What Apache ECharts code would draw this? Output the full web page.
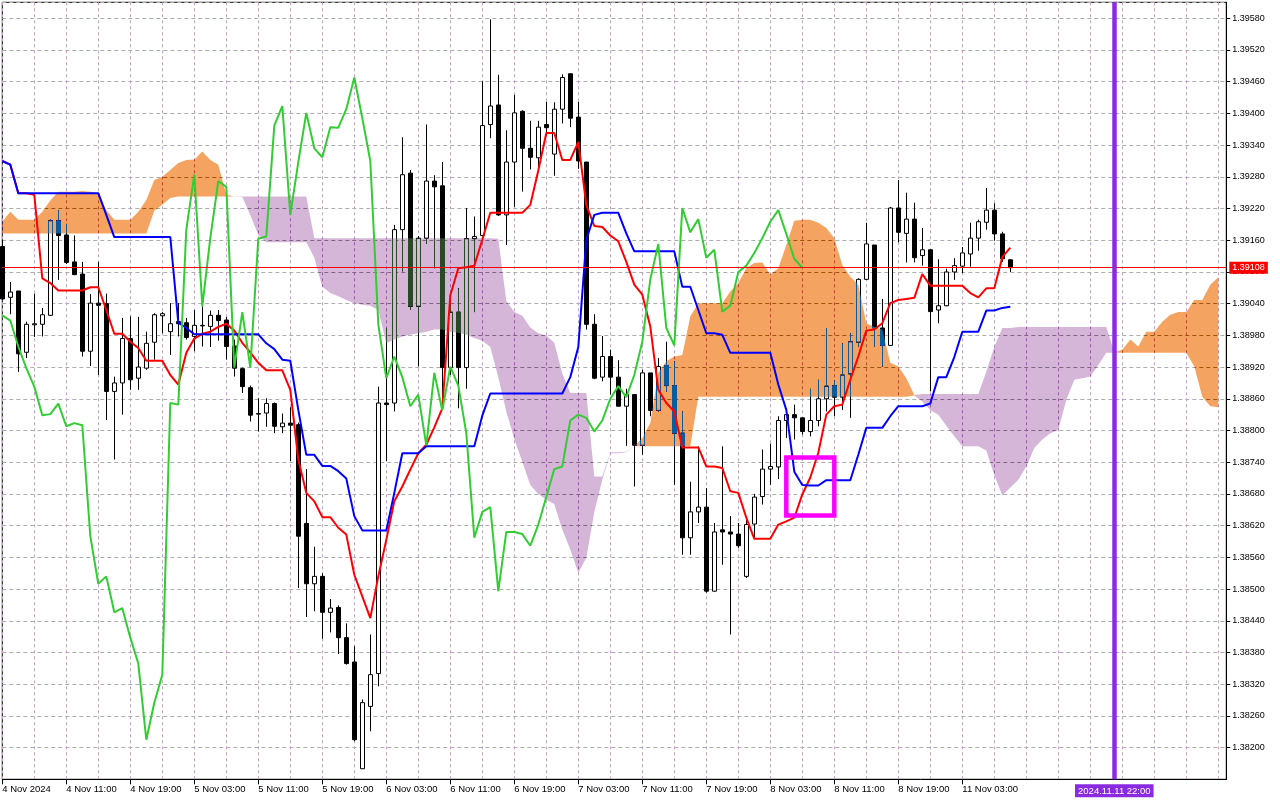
<!DOCTYPE html>
<html>
<head>
<meta charset="utf-8">
<script src="https://cdn.jsdelivr.net/npm/echarts@6.0.0/dist/echarts.min.js"></script>
<style>
html,body{margin:0;padding:0;background:#fff;}
#chart{width:1280px;height:800px;}
</style>
</head>
<body>
<div id="chart"></div>
<script>
// ---- time labels (every 8 bars, H1 chart) ----
const timeLabels = ['4 Nov 2024','4 Nov 11:00','4 Nov 19:00','5 Nov 03:00','5 Nov 11:00','5 Nov 19:00',
  '6 Nov 03:00','6 Nov 11:00','6 Nov 19:00','7 Nov 03:00','7 Nov 11:00','7 Nov 19:00',
  '8 Nov 03:00','8 Nov 11:00','8 Nov 19:00','11 Nov 03:00'];
const cursorIndex = 139;
const cursorLabel = '2024.11.11 22:00';
const boxFrom = [98, 1.38749];
const boxTo = [104, 1.38639];

// ---- OHLC ----
const opens = [
1.39148,1.39052,1.39064,1.38948,1.39000,1.39001,1.39018,1.39197,1.39170,1.39119,
1.39096,1.38950,1.39041,1.39040,1.38874,1.38890,1.38974,1.38899,1.38918,1.38967,
1.39017,1.38987,1.39006,1.39004,1.38978,1.38999,1.38997,1.39018,1.39009,1.38960,
1.38917,1.38881,1.38832,1.38833,1.38851,1.38807,1.38814,1.38811,1.38624,1.38510,
1.38524,1.38456,1.38465,1.38408,1.38362,1.38160,1.38278,1.38340,1.38852,1.38852,
1.39180,1.39287,1.39035,1.39164,1.39272,1.39263,1.38919,1.39024,1.38919,1.39163,
1.39169,1.39379,1.39416,1.39208,1.39308,1.39404,1.39334,1.39316,1.39379,1.39323,
1.39408,1.39475,1.39393,1.39308,1.39001,1.38901,1.38940,1.38901,1.38846,1.38868,
1.38772,1.38909,1.38838,1.38923,1.38885,1.38795,1.38597,1.38646,1.38655,1.38496,
1.38612,1.38608,1.38604,1.38524,1.38623,1.38675,1.38727,1.38731,1.38819,1.38830,
1.38824,1.38798,1.38819,1.38860,1.38885,1.38863,1.38907,1.38967,1.39086,1.39151,
1.38994,1.38961,1.39221,1.39173,1.39200,1.39131,1.39142,1.39028,1.39036,1.39100,
1.39111,1.39134,1.39164,1.39194,1.39217,1.39172,1.39123];
const closes = [
1.39049,1.39062,1.38945,1.39001,1.39002,1.39019,1.39197,1.39169,1.39118,1.39095,
1.38950,1.39041,1.39037,1.38874,1.38890,1.38974,1.38896,1.38920,1.38965,1.39019,
1.39021,1.39002,1.39002,1.38976,1.38999,1.38998,1.39018,1.39008,1.38959,1.38918,
1.38883,1.38829,1.38831,1.38851,1.38808,1.38814,1.38810,1.38600,1.38510,1.38524,
1.38456,1.38464,1.38408,1.38359,1.38215,1.38285,1.38338,1.38852,1.38849,1.39180,
1.39284,1.39035,1.39164,1.39272,1.39261,1.38919,1.39024,1.38919,1.39163,1.39167,
1.39377,1.39414,1.39208,1.39308,1.39401,1.39334,1.39317,1.39374,1.39373,1.39408,
1.39468,1.39391,1.39310,1.39001,1.38899,1.38940,1.38901,1.38846,1.38868,1.38772,
1.38909,1.38838,1.38921,1.38885,1.38795,1.38597,1.38646,1.38655,1.38496,1.38608,
1.38608,1.38604,1.38582,1.38622,1.38674,1.38727,1.38732,1.38819,1.38830,1.38824,
1.38798,1.38819,1.38860,1.38884,1.38863,1.38905,1.38968,1.39086,1.39153,1.38994,
1.38961,1.39221,1.39175,1.39200,1.39127,1.39142,1.39025,1.39036,1.39100,1.39112,
1.39136,1.39164,1.39195,1.39217,1.39172,1.39125,1.39108];
const highs = [
1.39161,1.39081,1.39064,1.39006,1.39059,1.39032,1.39200,1.39217,1.39191,1.39169,
1.39119,1.39058,1.39119,1.39059,1.38902,1.39013,1.39016,1.39015,1.38987,1.39022,
1.39024,1.39041,1.39041,1.39013,1.39028,1.39035,1.39027,1.39028,1.39015,1.38972,
1.38919,1.38885,1.38861,1.38861,1.38853,1.38832,1.38844,1.38815,1.38727,1.38580,
1.38530,1.38481,1.38469,1.38435,1.38392,1.38291,1.38414,1.38883,1.38994,1.39189,
1.39355,1.39293,1.39168,1.39379,1.39283,1.39308,1.39047,1.39069,1.39221,1.39205,
1.39461,1.39578,1.39473,1.39368,1.39435,1.39406,1.39386,1.39386,1.39422,1.39421,
1.39474,1.39475,1.39422,1.39308,1.39020,1.38979,1.38953,1.38933,1.38879,1.38868,
1.38915,1.38909,1.38937,1.38968,1.38931,1.38836,1.38703,1.38770,1.38691,1.38625,
1.38770,1.38638,1.38625,1.38638,1.38680,1.38764,1.38775,1.38827,1.38842,1.38849,
1.38824,1.38879,1.38896,1.38994,1.38895,1.38965,1.38984,1.39088,1.39193,1.39151,
1.39049,1.39223,1.39274,1.39250,1.39231,1.39183,1.39142,1.39124,1.39106,1.39126,
1.39147,1.39193,1.39199,1.39259,1.39230,1.39176,1.39124];
const lows = [
1.39047,1.39020,1.38911,1.38937,1.38977,1.38978,1.39017,1.39085,1.39115,1.39094,
1.38940,1.38922,1.38905,1.38820,1.38745,1.38830,1.38877,1.38877,1.38915,1.38934,
1.38984,1.38943,1.38978,1.38972,1.38950,1.38959,1.38958,1.38970,1.38934,1.38902,
1.38871,1.38817,1.38798,1.38807,1.38795,1.38795,1.38742,1.38502,1.38447,1.38458,
1.38406,1.38418,1.38377,1.38357,1.38212,1.38160,1.38231,1.38316,1.38742,1.38836,
1.39101,1.39028,1.38921,1.39153,1.39107,1.38850,1.38905,1.38842,1.38879,1.39024,
1.39167,1.39353,1.39206,1.39151,1.39223,1.39252,1.39294,1.39295,1.39357,1.39282,
1.39381,1.39374,1.39295,1.38991,1.38897,1.38893,1.38868,1.38846,1.38771,1.38694,
1.38754,1.38827,1.38836,1.38873,1.38697,1.38565,1.38565,1.38625,1.38493,1.38495,
1.38546,1.38414,1.38578,1.38521,1.38597,1.38660,1.38697,1.38708,1.38786,1.38783,
1.38792,1.38789,1.38808,1.38836,1.38827,1.38839,1.38824,1.38959,1.39085,1.38959,
1.38921,1.38961,1.39156,1.39118,1.39118,1.39112,1.38874,1.39003,1.39035,1.39085,
1.39098,1.39110,1.39140,1.39180,1.39159,1.39119,1.39100];

// ---- Ichimoku lines ----
const tenkan = [
1.39310,1.39303,1.39249,1.39249,1.39246,1.39088,1.39079,1.39065,1.39065,1.39065,
1.39065,1.39071,1.39071,1.39028,1.38983,1.38983,1.38968,1.38956,1.38932,1.38932,
1.38932,1.38905,1.38887,1.38947,1.38974,1.38983,1.38987,1.38996,1.39002,1.38989,
1.38966,1.38948,1.38928,1.38914,1.38914,1.38914,1.38877,1.38745,1.38682,1.38666,
1.38636,1.38636,1.38616,1.38603,1.38527,1.38486,1.38445,1.38524,1.38593,1.38666,
1.38694,1.38726,1.38757,1.38773,1.38806,1.38842,1.39056,1.39107,1.39109,1.39112,
1.39161,1.39212,1.39212,1.39212,1.39212,1.39212,1.39227,1.39292,1.39363,1.39363,
1.39312,1.39312,1.39346,1.39227,1.39187,1.39185,1.39169,1.39158,1.39119,1.39076,
1.39057,1.38997,1.38877,1.38852,1.38836,1.38768,1.38768,1.38768,1.38732,1.38732,
1.38729,1.38685,1.38682,1.38635,1.38595,1.38595,1.38595,1.38622,1.38628,1.38635,
1.38679,1.38711,1.38758,1.38830,1.38846,1.38849,1.38896,1.38940,1.38989,1.38991,
1.39003,1.39041,1.39047,1.39049,1.39051,1.39096,1.39074,1.39074,1.39074,1.39074,
1.39074,1.39060,1.39052,1.39069,1.39069,1.39128,1.39146];
const kijun = [
1.39310,1.39303,1.39249,1.39249,1.39249,1.39249,1.39249,1.39249,1.39249,1.39249,
1.39249,1.39249,1.39249,1.39208,1.39166,1.39166,1.39166,1.39166,1.39166,1.39166,
1.39166,1.39166,1.39004,1.38994,1.38982,1.38982,1.38982,1.38982,1.38982,1.38982,
1.38982,1.38982,1.38982,1.38965,1.38954,1.38934,1.38932,1.38839,1.38754,1.38754,
1.38733,1.38733,1.38723,1.38709,1.38638,1.38611,1.38611,1.38611,1.38611,1.38682,
1.38757,1.38757,1.38757,1.38770,1.38770,1.38770,1.38770,1.38770,1.38770,1.38770,
1.38828,1.38870,1.38870,1.38870,1.38870,1.38870,1.38870,1.38870,1.38870,1.38870,
1.38870,1.38901,1.38958,1.39161,1.39208,1.39212,1.39212,1.39212,1.39173,1.39139,
1.39139,1.39139,1.39139,1.39139,1.39139,1.39072,1.39072,1.39028,1.38984,1.38984,
1.38981,1.38947,1.38947,1.38947,1.38947,1.38947,1.38947,1.38887,1.38839,1.38722,
1.38697,1.38696,1.38696,1.38706,1.38706,1.38706,1.38706,1.38754,1.38805,1.38805,
1.38805,1.38827,1.38846,1.38846,1.38846,1.38846,1.38851,1.38901,1.38901,1.38939,
1.38987,1.38987,1.38987,1.39027,1.39027,1.39032,1.39034];
const chikou = [
1.39018,1.39008,1.38959,1.38918,1.38883,1.38829,1.38831,1.38851,1.38808,1.38814,
1.38810,1.38600,1.38510,1.38524,1.38456,1.38464,1.38408,1.38359,1.38215,1.38285,
1.38338,1.38852,1.38849,1.39180,1.39284,1.39035,1.39164,1.39272,1.39261,1.38919,
1.39024,1.38919,1.39163,1.39167,1.39377,1.39414,1.39208,1.39308,1.39401,1.39334,
1.39317,1.39374,1.39373,1.39408,1.39468,1.39391,1.39310,1.39001,1.38899,1.38940,
1.38901,1.38846,1.38868,1.38772,1.38909,1.38838,1.38921,1.38885,1.38795,1.38597,
1.38646,1.38655,1.38496,1.38608,1.38608,1.38604,1.38582,1.38622,1.38674,1.38727,
1.38732,1.38819,1.38830,1.38824,1.38798,1.38819,1.38860,1.38884,1.38863,1.38905,
1.38968,1.39086,1.39153,1.38994,1.38961,1.39221,1.39175,1.39200,1.39127,1.39142,
1.39025,1.39036,1.39100,1.39112,1.39136,1.39164,1.39195,1.39217,1.39172,1.39125,
1.39108];
const spanA = [
1.39195,1.39214,1.39199,1.39199,1.39199,1.39214,1.39235,1.39252,1.39252,1.39252,
1.39253,1.39252,1.39249,1.39217,1.39199,1.39199,1.39199,1.39214,1.39236,1.39274,
1.39280,1.39293,1.39306,1.39312,1.39313,1.39328,1.39312,1.39303,1.39246,1.39243,
1.39242,1.39208,1.39170,1.39156,1.39156,1.39156,1.39156,1.39156,1.39156,1.39127,
1.39072,1.39060,1.39054,1.39047,1.39041,1.39038,1.39036,1.39028,1.38965,1.38972,
1.38978,1.38981,1.38984,1.38987,1.38991,1.38991,1.38987,1.38985,1.38981,1.38975,
1.38970,1.38958,1.38901,1.38836,1.38784,1.38741,1.38697,1.38680,1.38669,1.38661,
1.38612,1.38575,1.38531,1.38559,1.38646,1.38707,1.38757,1.38757,1.38759,1.38770,
1.38786,1.38814,1.38909,1.38931,1.38940,1.38943,1.39016,1.39041,1.39041,1.39041,
1.39041,1.39063,1.39079,1.39107,1.39117,1.39118,1.39095,1.39107,1.39151,1.39197,
1.39199,1.39199,1.39193,1.39183,1.39164,1.39113,1.39091,1.39076,1.39003,1.38996,
1.38991,1.38928,1.38921,1.38899,1.38867,1.38855,1.38839,1.38830,1.38809,1.38789,
1.38770,1.38770,1.38770,1.38762,1.38716,1.38677,1.38692,1.38707,1.38732,1.38767,
1.38783,1.38795,1.38801,1.38858,1.38896,1.38899,1.38902,1.38924,1.38947,1.38948,
1.38953,1.38972,1.38959,1.38987,1.38987,1.39006,1.39019,1.39024,1.39024,1.39047,
1.39047,1.39076,1.39090];
const spanB = [
1.39173,1.39173,1.39173,1.39173,1.39173,1.39173,1.39173,1.39173,1.39173,1.39173,
1.39173,1.39173,1.39173,1.39173,1.39173,1.39173,1.39173,1.39173,1.39173,1.39216,
1.39227,1.39240,1.39243,1.39243,1.39243,1.39243,1.39243,1.39243,1.39243,1.39243,
1.39243,1.39243,1.39243,1.39243,1.39243,1.39243,1.39243,1.39243,1.39243,1.39164,
1.39164,1.39164,1.39164,1.39164,1.39164,1.39164,1.39164,1.39164,1.39164,1.39164,
1.39164,1.39164,1.39164,1.39164,1.39164,1.39164,1.39164,1.39164,1.39164,1.39164,
1.39164,1.39164,1.39163,1.39045,1.39024,1.39017,1.38995,1.38984,1.38980,1.38966,
1.38908,1.38871,1.38871,1.38871,1.38713,1.38713,1.38759,1.38759,1.38760,1.38770,
1.38770,1.38770,1.38770,1.38770,1.38770,1.38770,1.38770,1.38864,1.38864,1.38864,
1.38864,1.38864,1.38864,1.38864,1.38864,1.38864,1.38864,1.38864,1.38864,1.38864,
1.38864,1.38864,1.38864,1.38864,1.38864,1.38864,1.38864,1.38864,1.38864,1.38864,
1.38864,1.38864,1.38864,1.38864,1.38866,1.38869,1.38869,1.38869,1.38869,1.38869,
1.38869,1.38869,1.38869,1.38911,1.38958,1.38994,1.38994,1.38996,1.38996,1.38996,
1.38996,1.38996,1.38996,1.38996,1.38996,1.38996,1.38996,1.38996,1.38996,1.38947,
1.38947,1.38947,1.38947,1.38947,1.38947,1.38947,1.38947,1.38947,1.38947,1.38921,
1.38864,1.38846,1.38844];

// ---- value transform so ticks fall on 1.38200 + k*0.00060 ----
const BASE = 1.382, SCALE = 100000;
const toV = p => Math.round((p - BASE) * SCALE * 100) / 100;
const fmtP = v => (BASE + v / SCALE).toFixed(5);

const NCAT = 154;
const cats = [];
for (let i = 0; i < NCAT; i++) cats.push(String(i));

const candleData = opens.map((o, i) => [toV(o), toV(closes[i]), toV(lows[i]), toV(highs[i])]);
const cloudBase = spanA.map((a, i) => toV(Math.min(a, spanB[i])));
const cloudUp = spanA.map((a, i) => a > spanB[i] ? Math.round((a - spanB[i]) * SCALE * 100) / 100 : 0);
const cloudDn = spanA.map((a, i) => spanB[i] > a ? Math.round((spanB[i] - a) * SCALE * 100) / 100 : 0);

const hGrid = {color: '#a9b0a9', width: 1, type: [4, 3]};
const vGrid = {color: '#c3a3cb', width: 1, type: [3, 3]};
const labelFont = 'Liberation Sans, Arial, sans-serif';
const isLabelIdx = i => i % 8 === 0 && (i / 8) < timeLabels.length;

const chart = echarts.init(document.getElementById('chart'), null, {renderer: 'canvas'});
chart.setOption({
  backgroundColor: '#ffffff',
  animation: false,
  grid: {left: 2.3, right: 53.7, top: 2.3, bottom: 20.7, show: true, borderColor: '#000', borderWidth: 1,
         backgroundColor: 'rgba(0,0,0,0)', containLabel: false, outerBoundsMode: 'none'},
  xAxis: {
    type: 'category', data: cats, boundaryGap: false,
    axisLine: {show: true, onZero: false, lineStyle: {color: '#000', width: 1}},
    axisTick: {show: true, interval: isLabelIdx, length: 5, lineStyle: {color: '#000'}},
    axisLabel: {
      show: true, interval: isLabelIdx, align: 'left', margin: 5, color: '#000',
      fontSize: 9.5, fontFamily: labelFont,
      formatter: (v, i) => timeLabels[Number(v) / 8] || ''
    },
    splitLine: {show: true, interval: i => i % 4 === 0, lineStyle: vGrid}
  },
  yAxis: {
    type: 'value', position: 'right', min: -60, max: toV(1.3961025), interval: 60,
    axisLine: {show: true, lineStyle: {color: '#000', width: 1}},
    axisTick: {show: true, length: 4, lineStyle: {color: '#000'}},
    axisLabel: {show: true, margin: 6, color: '#000', fontSize: 9, fontFamily: labelFont,
      showMinLabel: false, showMaxLabel: false,
      formatter: v => (v < 0 || v > 1400 ? '' : fmtP(v))},
    splitLine: {show: true, lineStyle: hGrid}
  },
  series: [
    {
      name: 'Price', type: 'candlestick', data: candleData, barWidth: 5, silent: true,
      itemStyle: {color: '#ffffff', color0: '#000000', borderColor: '#000000', borderColor0: '#000000', borderWidth: 1},
      emphasis: {disabled: true},
      markLine: {
        silent: true, symbol: ['none', 'none'], animation: false,
        data: [
          {yAxis: toV(closes[closes.length - 1]),
           lineStyle: {color: '#ff0000', width: 1, type: 'solid'},
           label: {show: true, position: 'end', distance: 3, formatter: p => fmtP(p.value),
                   backgroundColor: '#ff0000', color: '#ffffff', fontSize: 9, fontFamily: labelFont, padding: [2, 3, 1, 3]}},
          {xAxis: String(cursorIndex),
           lineStyle: {color: '#8a2be2', width: 4.5, type: 'solid'},
           label: {show: true, position: 'start', distance: 5, formatter: cursorLabel,
                   backgroundColor: '#8a2be2', color: '#ffffff', fontSize: 9.5, fontFamily: labelFont, padding: [2, 3, 1, 3]}}
        ]
      }
    },
    {name: 'Tenkan', type: 'line', data: tenkan.map(toV), symbol: 'none', silent: true,
     lineStyle: {color: '#ff0000', width: 2}, emphasis: {disabled: true}},
    {name: 'Kijun', type: 'line', data: kijun.map(toV), symbol: 'none', silent: true,
     lineStyle: {color: '#0000ff', width: 2}, emphasis: {disabled: true}},
    {name: 'CloudBase', type: 'line', stack: 'cloud', data: cloudBase, symbol: 'none', silent: true,
     lineStyle: {width: 0, opacity: 0}, emphasis: {disabled: true}},
    {name: 'CloudUp', type: 'line', stack: 'cloud', data: cloudUp, symbol: 'none', silent: true,
     blendMode: 'difference', lineStyle: {width: 0, opacity: 0},
     areaStyle: {color: '#0b5b9f', opacity: 1}, emphasis: {disabled: true}},
    {name: 'CloudDn', type: 'line', stack: 'cloud', data: cloudDn, symbol: 'none', silent: true,
     blendMode: 'difference', lineStyle: {width: 0, opacity: 0},
     areaStyle: {color: '#2a4a27', opacity: 1}, emphasis: {disabled: true}},
    {name: 'Chikou', type: 'line', data: chikou.map(toV), symbol: 'none', silent: true,
     lineStyle: {color: '#32cd32', width: 2}, emphasis: {disabled: true},
     markArea: {
       silent: true, z: 10,
       itemStyle: {color: 'rgba(0,0,0,0)', borderColor: '#ff00ff', borderWidth: 4.5},
       data: [[{xAxis: String(boxFrom[0]), yAxis: toV(boxFrom[1])}, {xAxis: String(boxTo[0]), yAxis: toV(boxTo[1])}]]
     }}
  ]
});
</script>
</body>
</html>
